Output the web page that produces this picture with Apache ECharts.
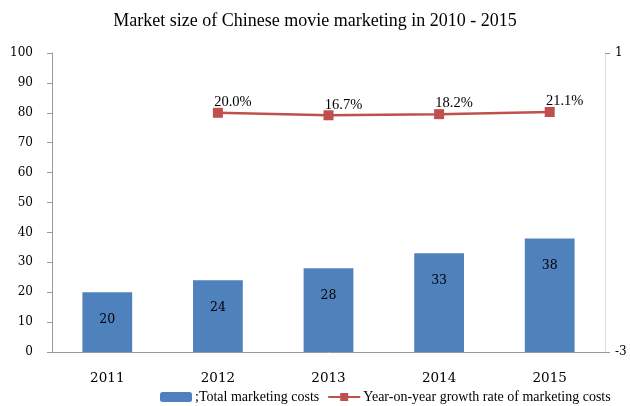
<!DOCTYPE html>
<html>
<head>
<meta charset="utf-8">
<title>echarts</title>
<style>
  html, body { margin: 0; width: 100%; height: 100%; background: #fff; }
  #chart { width: 630px; height: 406px; }
</style>
</head>
<body>
<div id="chart"></div>
<script src="https://cdn.jsdelivr.net/npm/echarts@6/dist/echarts.min.js"></script>
<script>
var years = ['2011', '2012', '2013', '2014', '2015'];
var totalCosts = [20, 24, 28, 33, 38];
var growthRate = ['-', 0.200, 0.167, 0.182, 0.211];
var leftTicks = { min: 0, max: 100, interval: 10 };
var rightTicks = { min: -3, max: 1, interval: 4 };

var serif = 'Liberation Serif';
var wide = 'DejaVu Serif';
var chart = echarts.init(document.getElementById('chart'));
chart.setOption({
  animation: false,
  title: {
    text: 'Market size of Chinese movie marketing in 2010 - 2015',
    left: 'center',
    top: 7,
    textStyle: { fontFamily: serif, fontSize: 18, fontWeight: 'normal', color: '#000' }
  },
  legend: {
    bottom: -3,
    left: 155,
    itemWidth: 32,
    itemHeight: 10,
    itemGap: 8,
    textStyle: { fontFamily: serif, fontSize: 14, color: '#000', padding: [0, 0, 0, -2] },
    data: [';Total marketing costs', 'Year-on-year growth rate of marketing costs']
  },
  grid: { left: 52, right: 25, top: 53, bottom: 54 },
  xAxis: {
    type: 'category',
    data: years,
    axisLine: { lineStyle: { color: '#999' } },
    axisTick: { interval: 1, length: 6, lineStyle: { color: '#999' } },
    axisLabel: { fontFamily: wide, fontSize: 13.5, color: '#000', margin: 19 }
  },
  yAxis: [{
    type: 'value',
    min: leftTicks.min, max: leftTicks.max, interval: leftTicks.interval,
    axisLine: { show: true, lineStyle: { color: '#999' } },
    axisTick: { show: true, length: 5, lineStyle: { color: '#999' } },
    splitLine: { show: false },
    axisLabel: { fontFamily: wide, fontSize: 12, color: '#000', margin: 19 }
  }, {
    type: 'value',
    min: rightTicks.min, max: rightTicks.max, interval: rightTicks.interval,
    axisLine: { show: true, lineStyle: { color: '#ddd' } },
    axisTick: { show: true, length: 5, lineStyle: { color: '#999' } },
    splitLine: { show: false },
    axisLabel: { fontFamily: wide, fontSize: 12, color: '#000', margin: 10 }
  }],
  series: [{
    name: ';Total marketing costs',
    type: 'bar',
    data: totalCosts,
    barWidth: '45%',
    itemStyle: { color: '#4F81BD' },
    label: {
      show: true, position: 'insideTop', distance: 21,
      fontFamily: wide, fontSize: 12.5, color: '#000'
    }
  }, {
    name: 'Year-on-year growth rate of marketing costs',
    type: 'line',
    yAxisIndex: 1,
    data: growthRate,
    symbol: 'rect',
    symbolSize: 10,
    lineStyle: { color: '#C0504D', width: 2.5 },
    itemStyle: { color: '#C0504D' },
    label: {
      show: true, position: 'top', distance: 2, offset: [15, 4],
      fontFamily: serif, fontSize: 14.5, color: '#000',
      formatter: function (p) { return (p.value * 100).toFixed(1) + '%'; }
    }
  }]
});
</script>
</body>
</html>
